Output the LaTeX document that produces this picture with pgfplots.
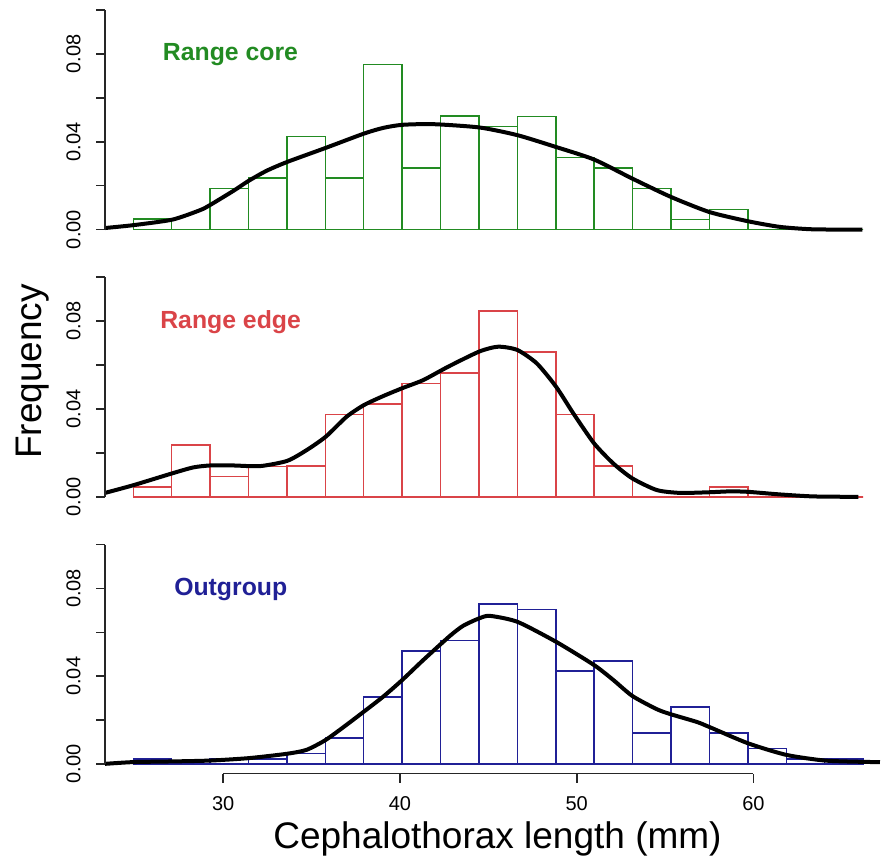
\documentclass[border=0pt]{standalone}
\usepackage{pgfplots}
\pgfplotsset{compat=1.18}
\usepackage{fontspec}
\setmainfont{Liberation Sans}

\definecolor{coregreen}{RGB}{34,139,34}
\definecolor{edgered}{RGB}{218,68,72}
\definecolor{outblue}{RGB}{32,32,150}

\pgfplotsset{
  panel/.style={
    scale only axis,
    width=378.65pt, height=114.5pt,
    xmin=23.31, xmax=66.16,
    ymin=-0.0043, ymax=0.1,
    clip=false,
    axis lines*=left,
    axis line style={draw=none},
    tick align=outside,
    major tick length=4.5pt,
    tick style={line width=0.8pt, black!85},
    ytick={0,0.02,0.04,0.06,0.08,0.1},
    yticklabels={0.00,,0.04,,0.08,},
    yticklabel style={xshift=-7.5pt, rotate=90, anchor=south, inner sep=0pt, font=\fontsize{10}{12}\selectfont},
    xticklabel style={yshift=-7pt, anchor=north, inner sep=0pt, font=\fontsize{10}{12}\selectfont},
    /pgf/number format/assume math mode=true,
  },
  hist/.style={ybar interval, line width=0.75pt, fill=none},
  dens/.style={black, line width=2pt, smooth, tension=0.4, mark=none},
}

\begin{document}
\begin{tikzpicture}
\path[use as bounding box] (0,0) rectangle (440.5pt,-430pt);

% Range core
\begin{axis}[panel, at={(52.5pt,-5pt)}, anchor=north west, xtick=\empty]
\addplot[hist, draw=coregreen] coordinates {
(24.91,0.0047) (27.08,0) (29.25,0.0187) (31.43,0.0234) (33.60,0.0424)
(35.78,0.0234) (37.95,0.0752) (40.12,0.0281) (42.30,0.0518) (44.47,0.0469)
(46.64,0.0516) (48.82,0.0329) (50.99,0.0281) (53.16,0.0187) (55.34,0.0046)
(57.51,0.0092) (59.68,0) (61.86,0) (64.03,0) (66.20,0)};
\addplot[dens] coordinates {
(23.31,0.0007) (24.91,0.0020) (27.11,0.0045) (28.68,0.0088) (29.26,0.0112)
(30.57,0.0176) (31.44,0.0222) (32.46,0.0268) (33.62,0.0308) (35.80,0.0372)
(37.96,0.0437) (39.05,0.0463) (40.13,0.0477) (41.88,0.0480) (44.49,0.0465)
(46.64,0.0430) (48.83,0.0376) (50.98,0.0319) (53.15,0.0232) (55.32,0.0149)
(57.50,0.0080) (59.68,0.0038) (61.51,0.0012) (63.39,0.0001) (66.16,0)};
\draw[line width=0.8pt, black!85] (axis cs:23.31,0) -- (axis cs:23.31,0.1);
\node[anchor=base west, text=coregreen, font=\fontsize{12.4}{14}\selectfont\bfseries]
  at (axis cs:26.19,0.0771) {Range core};
\end{axis}

% Range edge
\begin{axis}[panel, at={(52.5pt,-138.65pt)}, anchor=north west, xtick=\empty]
\addplot[hist, draw=edgered] coordinates {
(24.91,0.0046) (27.08,0.0236) (29.25,0.0093) (31.43,0.0139) (33.60,0.0141)
(35.78,0.0376) (37.95,0.0423) (40.12,0.0517) (42.30,0.0563) (44.47,0.0847)
(46.64,0.0659) (48.82,0.0376) (50.99,0.0141) (53.16,0) (55.34,0)
(57.51,0.0046) (59.68,0) (61.86,0) (64.03,0) (66.20,0)};
\addplot[dens] coordinates {
(23.31,0.0018) (24.91,0.0053) (27.11,0.0107) (28.30,0.0134) (29.26,0.0143)
(30.57,0.0143) (32.08,0.0140) (33.62,0.0164) (34.72,0.0213) (35.80,0.0274)
(36.98,0.0365) (37.96,0.0418) (39.05,0.0459) (40.13,0.0495) (41.32,0.0532)
(42.73,0.0593) (44.49,0.0662) (45.56,0.0684) (46.64,0.0669) (47.74,0.0608)
(48.83,0.0502) (49.81,0.0380) (50.98,0.0244) (52.07,0.0152) (53.15,0.0084)
(54.53,0.0031) (55.85,0.0018) (57.50,0.0021) (58.68,0.0025) (59.68,0.0023)
(61.51,0.0011) (63.39,0.0002) (65.94,0)};
\draw[line width=0.8pt, black!85] (axis cs:23.31,0) -- (axis cs:23.31,0.1);
\node[anchor=base west, text=edgered, font=\fontsize{12.4}{14}\selectfont\bfseries]
  at (axis cs:26.04,0.0768) {Range edge};
\end{axis}

% Outgroup
\begin{axis}[panel, at={(52.5pt,-272.25pt)}, anchor=north west, xtick={30,40,50,60}]
\addplot[hist, draw=outblue] coordinates {
(24.91,0.0024) (27.08,0) (29.25,0.0024) (31.43,0.0024) (33.60,0.0047)
(35.78,0.0118) (37.95,0.0306) (40.12,0.0516) (42.30,0.0562) (44.47,0.0729)
(46.64,0.0705) (48.82,0.0423) (50.99,0.0470) (53.16,0.0142) (55.34,0.0259)
(57.51,0.0142) (59.68,0.0071) (61.86,0.0024) (64.03,0.0024) (66.20,0)};
\addplot[dens] coordinates {
(23.31,0.0001) (24.91,0.0009) (27.11,0.0012) (29.26,0.0016) (31.44,0.0027)
(33.62,0.0047) (34.72,0.0065) (35.80,0.0110) (36.98,0.0179) (37.96,0.0239)
(39.05,0.0307) (40.13,0.0383) (41.32,0.0474) (42.83,0.0584) (43.58,0.0630)
(44.49,0.0664) (45.09,0.0675) (46.64,0.0648) (48.83,0.0557) (50.98,0.0451)
(52.07,0.0383) (53.15,0.0310) (54.53,0.0250) (55.32,0.0227) (56.79,0.0192)
(57.50,0.0169) (59.68,0.0095) (61.85,0.0042) (64.04,0.0016) (66.22,0.0010)
(67.16,0.0009)};
\draw[line width=0.8pt, black!85] (axis cs:23.31,0) -- (axis cs:23.31,0.1);
\draw[line width=0.8pt, black!85] (axis cs:30,-0.0043) -- (axis cs:60,-0.0043);
\node[anchor=base west, text=outblue, font=\fontsize{12.4}{14}\selectfont\bfseries]
  at (axis cs:26.83,0.077) {Outgroup};
\end{axis}

\node[rotate=90, anchor=base, font=\fontsize{18.5}{22}\selectfont] at (20.5pt,-185.75pt) {Frequency};
\node[anchor=base, font=\fontsize{18.5}{22}\selectfont] at (248.75pt,-424.15pt) {Cephalothorax length (mm)};
\end{tikzpicture}
\end{document}
